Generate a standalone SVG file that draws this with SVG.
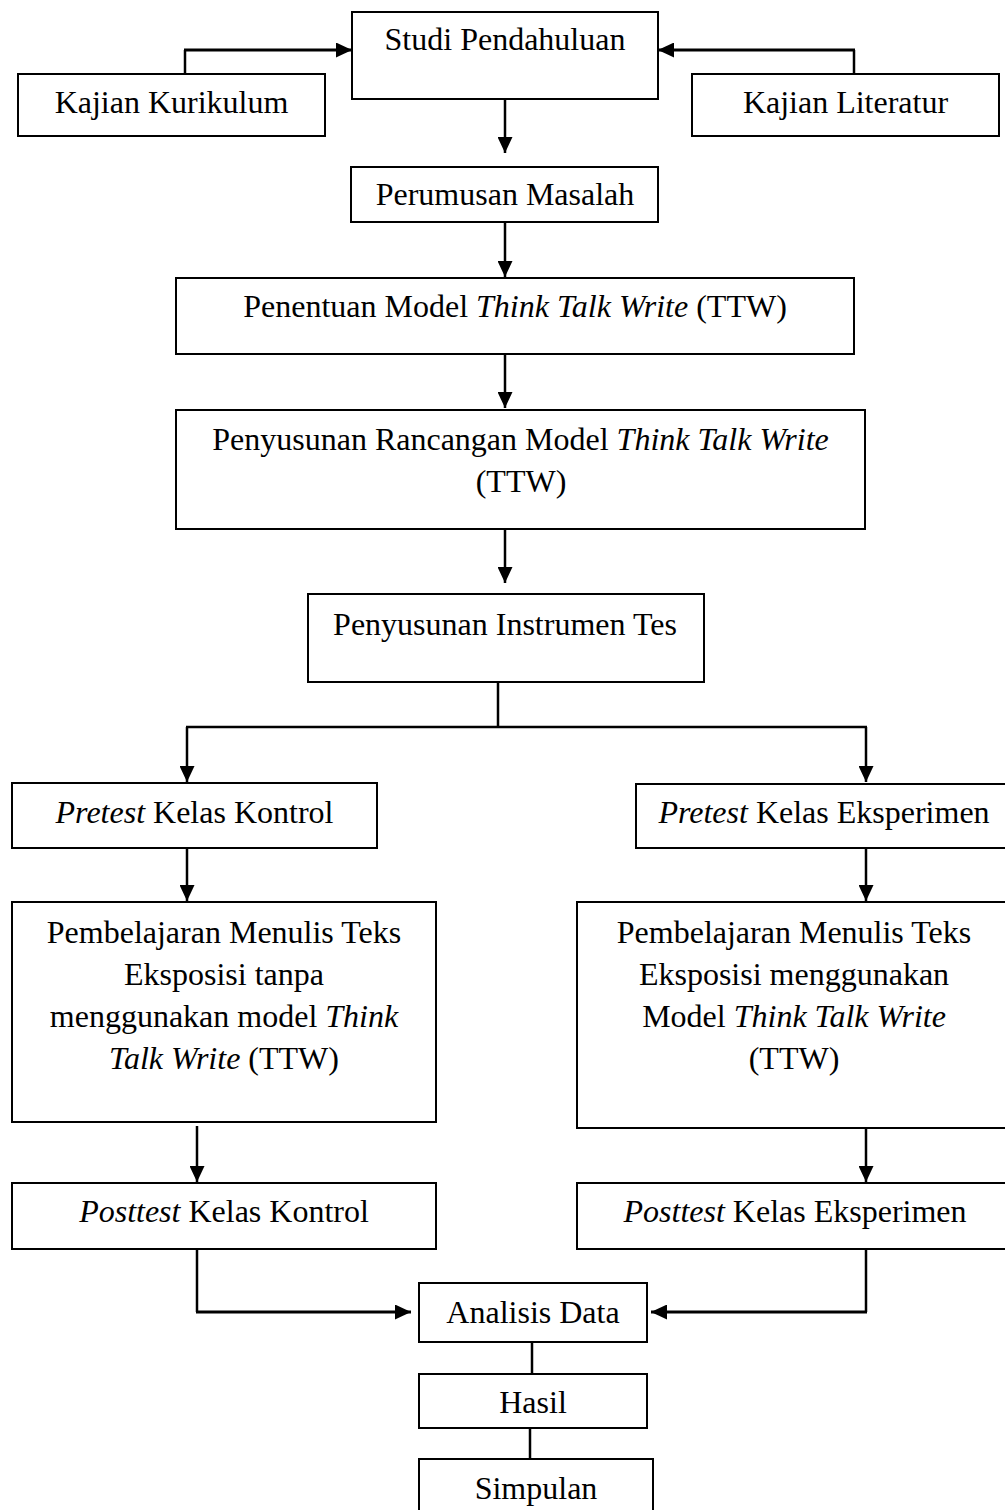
<svg xmlns="http://www.w3.org/2000/svg" width="1005" height="1510" viewBox="0 0 1005 1510">
<style>
.box{fill:#fff;stroke:#000;stroke-width:2}
.t{font-family:"Liberation Serif","Times New Roman",serif;font-size:32px;fill:#000;text-anchor:middle}
.i{font-style:italic}
.c{fill:none;stroke:#000;stroke-width:2.5}
.h{stroke-width:3}
</style>
<defs>
<marker id="ah" markerUnits="userSpaceOnUse" markerWidth="16" markerHeight="15" refX="16" refY="7.5" orient="auto">
<path d="M0,0 L16,7.5 L0,15 z" fill="#000"/>
</marker>
</defs>
<rect width="1005" height="1510" fill="#fff"/>
<g id="connectors">
<path class="c" d="M185,74 V50"/>
<path class="c h" d="M184,50 H352" marker-end="url(#ah)"/>
<path class="c" d="M854,74 V50"/>
<path class="c h" d="M855,50 H658" marker-end="url(#ah)"/>
<path class="c" d="M505,99 V153" marker-end="url(#ah)"/>
<path class="c" d="M505,222 V277" marker-end="url(#ah)"/>
<path class="c" d="M505,354 V408" marker-end="url(#ah)"/>
<path class="c" d="M505,529 V583" marker-end="url(#ah)"/>
<path class="c" d="M498,682 V727"/>
<path class="c" d="M186,727 H867"/>
<path class="c" d="M187,727 V782" marker-end="url(#ah)"/>
<path class="c" d="M866,727 V782" marker-end="url(#ah)"/>
<path class="c" d="M187,848 V901" marker-end="url(#ah)"/>
<path class="c" d="M866,848 V901" marker-end="url(#ah)"/>
<path class="c" d="M197,1126 V1182" marker-end="url(#ah)"/>
<path class="c" d="M866,1128 V1182" marker-end="url(#ah)"/>
<path class="c" d="M197,1249 V1312"/>
<path class="c h" d="M196,1312 H411" marker-end="url(#ah)"/>
<path class="c" d="M866,1249 V1312"/>
<path class="c h" d="M867,1312 H651" marker-end="url(#ah)"/>
<path class="c" d="M532,1342 V1374"/>
<path class="c" d="M530,1428 V1459"/>
</g>
<g id="studi-pendahuluan">
<rect class="box" x="352" y="12" width="306" height="87"/>
<text class="t" x="505" y="50">Studi Pendahuluan</text>
</g>
<g id="kajian-kurikulum">
<rect class="box" x="18" y="74" width="307" height="62"/>
<text class="t" x="171.5" y="113">Kajian Kurikulum</text>
</g>
<g id="kajian-literatur">
<rect class="box" x="692" y="74" width="307" height="62"/>
<text class="t" x="845.5" y="113">Kajian Literatur</text>
</g>
<g id="perumusan-masalah">
<rect class="box" x="351" y="167" width="307" height="55"/>
<text class="t" x="505" y="205">Perumusan Masalah</text>
</g>
<g id="penentuan-model">
<rect class="box" x="176" y="278" width="678" height="76"/>
<text class="t" x="515" y="317">Penentuan Model <tspan class="i">Think Talk Write</tspan> (TTW)</text>
</g>
<g id="penyusunan-rancangan">
<rect class="box" x="176" y="410" width="689" height="119"/>
<text class="t" x="520.5" y="450">Penyusunan Rancangan Model <tspan class="i">Think Talk Write</tspan></text>
<text class="t" x="521" y="492">(TTW)</text>
</g>
<g id="penyusunan-instrumen">
<rect class="box" x="308" y="594" width="396" height="88"/>
<text class="t" x="505" y="635">Penyusunan Instrumen Tes</text>
</g>
<g id="pretest-kontrol">
<rect class="box" x="12" y="783" width="365" height="65"/>
<text class="t" x="194.5" y="823"><tspan class="i">Pretest</tspan> Kelas Kontrol</text>
</g>
<g id="pretest-eksperimen">
<rect class="box" x="636" y="784" width="378" height="64"/>
<text class="t" x="824" y="823"><tspan class="i">Pretest</tspan> Kelas Eksperimen</text>
</g>
<g id="pembelajaran-kontrol">
<rect class="box" x="12" y="902" width="424" height="220"/>
<text class="t" x="224" y="943">Pembelajaran Menulis Teks</text>
<text class="t" x="224" y="985">Eksposisi tanpa</text>
<text class="t" x="224" y="1027">menggunakan model <tspan class="i">Think</tspan></text>
<text class="t" x="224" y="1069"><tspan class="i">Talk Write</tspan> (TTW)</text>
</g>
<g id="pembelajaran-eksperimen">
<rect class="box" x="577" y="902" width="436" height="226"/>
<text class="t" x="794" y="943">Pembelajaran Menulis Teks</text>
<text class="t" x="794" y="985">Eksposisi menggunakan</text>
<text class="t" x="794" y="1027">Model <tspan class="i">Think Talk Write</tspan></text>
<text class="t" x="794" y="1069">(TTW)</text>
</g>
<g id="posttest-kontrol">
<rect class="box" x="12" y="1183" width="424" height="66"/>
<text class="t" x="224" y="1222"><tspan class="i">Posttest</tspan> Kelas Kontrol</text>
</g>
<g id="posttest-eksperimen">
<rect class="box" x="577" y="1183" width="436" height="66"/>
<text class="t" x="795" y="1222"><tspan class="i">Posttest</tspan> Kelas Eksperimen</text>
</g>
<g id="analisis-data">
<rect class="box" x="419" y="1283" width="228" height="59"/>
<text class="t" x="533" y="1323">Analisis Data</text>
</g>
<g id="hasil">
<rect class="box" x="419" y="1374" width="228" height="54"/>
<text class="t" x="533" y="1413">Hasil</text>
</g>
<g id="simpulan">
<rect class="box" x="419" y="1459" width="234" height="60"/>
<text class="t" x="536" y="1499">Simpulan</text>
</g>
</svg>
